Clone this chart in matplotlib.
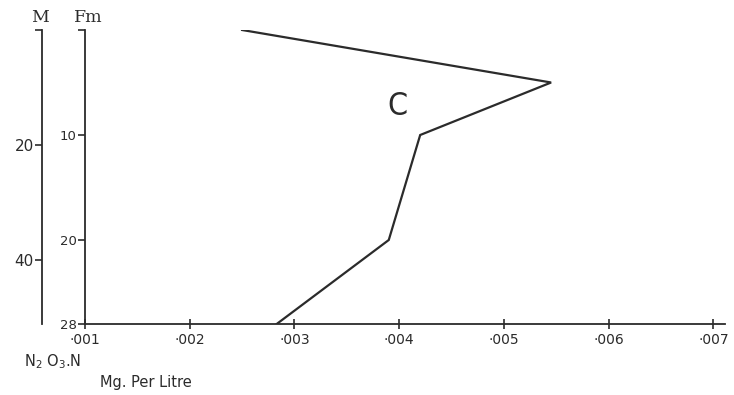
import matplotlib.pyplot as plt

# depth in fathoms and N2O3.N concentration (mg per litre)
depth_fm = [0, 5, 10, 20, 28]
nitrite = [0.0025, 0.00545, 0.0042, 0.0039, 0.00283]

x_ticks = [0.001, 0.002, 0.003, 0.004, 0.005, 0.006, 0.007]
x_tick_labels = ["·001", "·002", "·003", "·004", "·005", "·006", "·007"]
fm_ticks = [0, 10, 20, 28]
fm_tick_labels = ["", "10", "20", "28"]
m_ticks = [0, 20, 40]
m_tick_labels = ["", "20", "40"]

FM_TO_M = 1.8288
ink = "#2b2b2b"

plt.rcParams['font.family'] = ['DejaVu Sans']

fig = plt.figure(figsize=(7.34, 3.95), dpi=100)
ax = fig.add_axes([85 / 734, 1 - 324 / 395, 640 / 734, 294 / 395])

ax.plot(nitrite, depth_fm, color=ink, lw=1.6, solid_joinstyle='miter')
ax.text(0.00398, 7.3, "C", fontsize=23, color=ink, ha='center', va='center',
        fontweight='light', fontstretch='condensed')

ax.set_xlim(0.001, 0.00711)
ax.set_ylim(28, 0)

for side in ['top', 'right']:
    ax.spines[side].set_visible(False)
for side in ['left', 'bottom']:
    ax.spines[side].set_color(ink)
    ax.spines[side].set_linewidth(1.3)

ax.set_xticks(x_ticks)
ax.set_xticklabels(x_tick_labels)
ax.set_yticks(fm_ticks)
ax.set_yticklabels(fm_tick_labels)
ax.tick_params(axis='x', direction='inout', length=7, width=1.2, colors=ink,
               labelsize=10, pad=3)
ax.tick_params(axis='y', direction='out', length=5, width=1.2, colors=ink,
               labelsize=9.5, pad=1)

m_ax = ax.secondary_yaxis(-43 / 640, functions=(lambda f: f * FM_TO_M,
                                               lambda m: m / FM_TO_M))
m_ax.spines['left'].set_color(ink)
m_ax.spines['left'].set_linewidth(1.3)
m_ax.set_yticks(m_ticks)
m_ax.set_yticklabels(m_tick_labels)
m_ax.tick_params(axis='y', direction='out', length=5, width=1.2, colors=ink,
                 labelsize=11, pad=1)

fig.text(40 / 734, 1 - 18 / 395, "M", fontsize=12.5, family='DejaVu Serif',
         color=ink, ha='center', va='center')
fig.text(88 / 734, 1 - 18 / 395, "Fm", fontsize=12.5, family='DejaVu Serif',
         color=ink, ha='center', va='center')
fig.text(24 / 734, 1 - 362 / 395, r"N$_2$ O$_3$.N", fontsize=10.5,
         color=ink, ha='left', va='center')
fig.text(100 / 734, 1 - 383 / 395, "Mg. Per Litre", fontsize=10.5,
         color=ink, ha='left', va='center')

fig.savefig("out.png", dpi=100, facecolor='white')
